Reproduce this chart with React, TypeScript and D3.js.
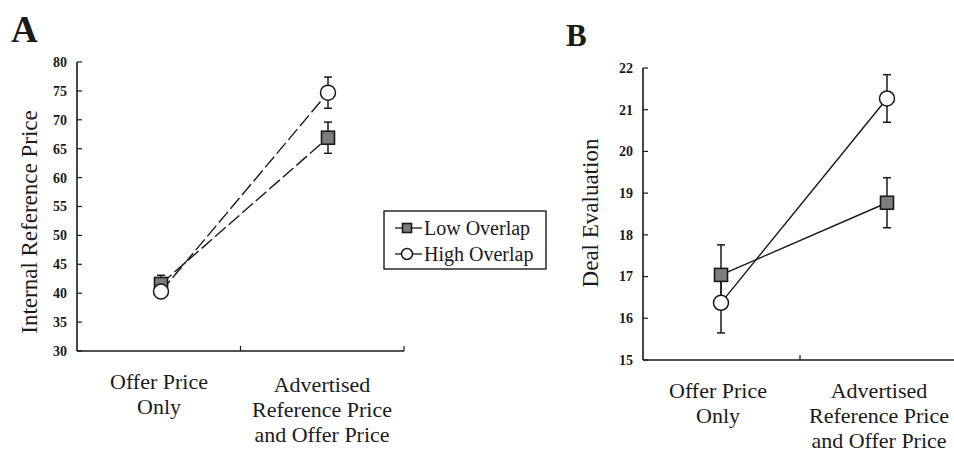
import React from "react";
import * as d3 from "d3";

const categories = ["Offer Price Only", "Advertised Reference Price and Offer Price"];
const categoryLines = [["Offer Price", "Only"], ["Advertised", "Reference Price", "and Offer Price"]];
const seriesNames = ["Low Overlap", "High Overlap"];

const priceLow = [41.6, 66.9];
const priceLowErr = [1.5, 2.7];
const priceHigh = [40.3, 74.7];
const priceHighErr = [1.2, 2.7];
const priceTicks = [30, 35, 40, 45, 50, 55, 60, 65, 70, 75, 80];

const dealLow = [17.04, 18.77];
const dealLowErr = [0.72, 0.6];
const dealHigh = [16.37, 21.27];
const dealHighErr = [0.72, 0.57];
const dealTicks = [15, 16, 17, 18, 19, 20, 21, 22];

const SERIF = "Liberation Serif, Times New Roman, serif";
const INK = "#1a1a1a";
const SQUARE_FILL = "#7d7d7d";

type PanelProps = {
  letter: string;
  letterX: number;
  letterY: number;
  letterSize: number;
  yTitle: string;
  yTitleX: number;
  yTitleY: number;
  left: number;
  right: number;
  top: number;
  bottom: number;
  p0: number;
  p1: number;
  ticks: number[];
  low: number[];
  lowErr: number[];
  high: number[];
  highErr: number[];
  dash?: string;
  labelBase: number[];
  labelDx: number[];
};

function Square({ x, y, s }: { x: number; y: number; s: number }) {
  return (
    <rect x={x - s / 2} y={y - s / 2} width={s} height={s} fill={SQUARE_FILL} stroke={INK} strokeWidth={1.6} />
  );
}

function Circle({ x, y, r }: { x: number; y: number; r: number }) {
  return <circle cx={x} cy={y} r={r} fill="#fff" stroke={INK} strokeWidth={1.5} />;
}

function Panel(p: PanelProps) {
  const ticks = p.ticks;
  const y = d3.scaleLinear().domain([ticks[0], ticks[ticks.length - 1]]).range([p.bottom, p.top]);
  const x = d3.scalePoint<string>().domain(categories).range([p.p0, p.p1]);
  const line = d3
    .line<number>()
    .x((_, i) => x(categories[i]) as number)
    .y((d) => y(d));
  const mid = (p.left + p.right) / 2;
  const cap = 4;
  const errBar = (vals: number[], errs: number[], key: string) =>
    vals.map((v, i) => {
      const cx = x(categories[i]) as number;
      const y1 = y(v + errs[i]);
      const y2 = y(v - errs[i]);
      return (
        <g key={key + i} stroke={INK} strokeWidth={1.5}>
          <line x1={cx} x2={cx} y1={y1} y2={y2} />
          <line x1={cx - cap} x2={cx + cap} y1={y1} y2={y1} />
          <line x1={cx - cap} x2={cx + cap} y1={y2} y2={y2} />
        </g>
      );
    });
  return (
    <g>
      <text x={p.letterX} y={p.letterY} fontFamily={SERIF} fontWeight="bold" fontSize={p.letterSize} fill={INK}>
        {p.letter}
      </text>
      <line x1={p.left} x2={p.left} y1={p.top} y2={p.bottom} stroke={INK} strokeWidth={1.6} />
      <line x1={p.left} x2={p.right} y1={p.bottom} y2={p.bottom} stroke={INK} strokeWidth={1.6} />
      <line x1={mid} x2={mid} y1={p.bottom} y2={p.bottom - 5} stroke={INK} strokeWidth={1.2} />
      <line x1={p.right} x2={p.right} y1={p.bottom} y2={p.bottom - 5} stroke={INK} strokeWidth={1.2} />
      {ticks.map((t) => (
        <g key={"t" + t}>
          <line x1={p.left} x2={p.left + 5} y1={y(t)} y2={y(t)} stroke={INK} strokeWidth={1.2} />
          <text
            x={p.left - 10}
            y={y(t)}
            dy="0.35em"
            textAnchor="end"
            fontFamily={SERIF}
            fontWeight="bold"
            fontSize={14}
            fill={INK}
          >
            {t}
          </text>
        </g>
      ))}
      <text
        transform={`translate(${p.yTitleX},${p.yTitleY}) rotate(-90)`}
        textAnchor="middle"
        dominantBaseline="central"
        fontFamily={SERIF}
        fontSize={23}
        fill={INK}
      >
        {p.yTitle}
      </text>
      {categoryLines.map((lines, i) => (
        <text key={"c" + i} textAnchor="middle" fontFamily={SERIF} fontSize={22} fill={INK}>
          {lines.map((l, j) => (
            <tspan key={j} x={(x(categories[i]) as number) + p.labelDx[i]} y={p.labelBase[i] + j * 25}>
              {l}
            </tspan>
          ))}
        </text>
      ))}
      <path d={line(p.high) || ""} fill="none" stroke={INK} strokeWidth={1.4} strokeDasharray={p.dash} />
      <path d={line(p.low) || ""} fill="none" stroke={INK} strokeWidth={1.4} strokeDasharray={p.dash} />
      {errBar(p.high, p.highErr, "he")}
      {errBar(p.low, p.lowErr, "le")}
      {p.low.map((v, i) => (
        <Square key={"s" + i} x={x(categories[i]) as number} y={y(v)} s={13} />
      ))}
      {p.high.map((v, i) => (
        <Circle key={"o" + i} x={x(categories[i]) as number} y={y(v)} r={7.5} />
      ))}
    </g>
  );
}

function Legend() {
  const bx = 384,
    by = 211,
    bw = 162,
    bh = 58;
  const rows = [228, 254];
  return (
    <g>
      <rect x={bx} y={by} width={bw} height={bh} fill="#fff" stroke={INK} strokeWidth={1.4} />
      {seriesNames.map((name, i) => (
        <g key={name}>
          <line x1={395} x2={422} y1={rows[i]} y2={rows[i]} stroke={INK} strokeWidth={1.3} />
          {i === 0 ? <Square x={407} y={rows[i]} s={9} /> : <Circle x={407} y={rows[i]} r={5.5} />}
          <text x={424} y={rows[i]} dy="0.33em" fontFamily={SERIF} fontSize={20} fill={INK}>
            {name}
          </text>
        </g>
      ))}
    </g>
  );
}

export default function App() {
  return (
    <svg width={954} height={453} style={{ position: "absolute", left: 0, top: 0, background: "#fff" }}>
      <rect x={0} y={0} width={954} height={453} fill="#fff" />
      <Panel
        letter="A"
        letterX={11}
        letterY={42}
        letterSize={37}
        yTitle="Internal Reference Price"
        yTitleX={29}
        yTitleY={222}
        left={77}
        right={404}
        top={62}
        bottom={351}
        p0={161}
        p1={328}
        ticks={priceTicks}
        low={priceLow}
        lowErr={priceLowErr}
        high={priceHigh}
        highErr={priceHighErr}
        dash="14,4"
        labelBase={[389, 392]}
        labelDx={[-2, -6]}
      />
      <Panel
        letter="B"
        letterX={566}
        letterY={46}
        letterSize={31}
        yTitle="Deal Evaluation"
        yTitleX={590}
        yTitleY={213}
        left={643}
        right={957}
        top={68}
        bottom={360}
        p0={721}
        p1={887}
        ticks={dealTicks}
        low={dealLow}
        lowErr={dealLowErr}
        high={dealHigh}
        highErr={dealHighErr}
        labelBase={[398, 398]}
        labelDx={[-3, -8]}
      />
      <Legend />
    </svg>
  );
}
